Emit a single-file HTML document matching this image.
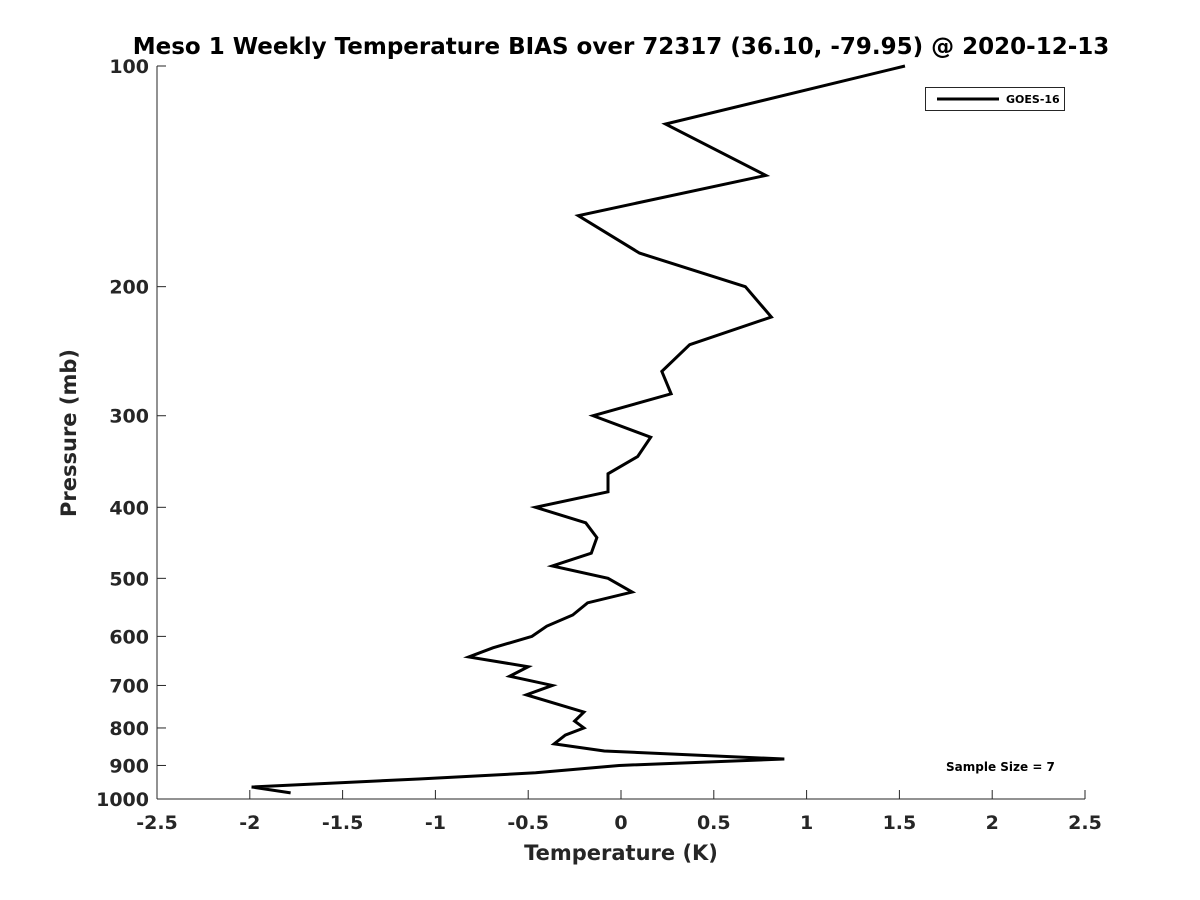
<!DOCTYPE html>
<html><head><meta charset="utf-8"><style>body{margin:0;background:#fff}svg{display:block;font-family:"DejaVu Sans","Liberation Sans",sans-serif}</style></head>
<body>
<svg id="c" width="1200" height="900"></svg>
<script>
const temps=[1.53,0.24,0.78,-0.23,0.10,0.67,0.81,0.37,0.22,0.27,-0.15,0.16,0.09,-0.07,-0.07,-0.46,-0.19,-0.13,-0.16,-0.37,-0.07,0.06,-0.18,-0.26,-0.40,-0.48,-0.69,-0.82,-0.50,-0.60,-0.37,-0.51,-0.20,-0.25,-0.20,-0.30,-0.36,-0.09,0.88,-0.01,-0.46,-1.09,-1.99,-1.78];
const pressures=[100,120,141,160,180,200,220,240,261,280,300,321,341,360,381,400,420,440,462,481,500,522,540,561,581,600,622,640,660,680,700,721,761,783,800,818,841,860,882,900,921,939,963,981];
const xTicks=[-2.5,-2,-1.5,-1,-0.5,0,0.5,1,1.5,2,2.5];
const yTicks=[100,200,300,400,500,600,700,800,900,1000];
const NS="http://www.w3.org/2000/svg",svg=document.getElementById('c');
const X0=157,X1=1085,Y0=66,Y1=799;
const xs=v=>X0+(v+2.5)/5*(X1-X0);
const ys=p=>Y0+Math.log10(p/100)*(Y1-Y0);
function mk(t,a,txt){const e=document.createElementNS(NS,t);for(const k in a)e.setAttribute(k,a[k]);if(txt!=null)e.textContent=txt;svg.appendChild(e);return e;}
let e=mk('rect',{x:0,y:0,width:1200,height:900,fill:'#fff'});

e=mk('line',{x1:X0,y1:Y0,x2:X0,y2:Y1,stroke:'#262626','stroke-width':1});

e=mk('line',{x1:X0,y1:Y1,x2:X1,y2:Y1,stroke:'#262626','stroke-width':1});

xTicks.forEach(v=>{const x=xs(v);
 e=mk('line',{x1:x,y1:Y1,x2:x,y2:Y1-9,stroke:'#262626'});
 
 e=mk('text',{x:x,y:Y1+30,'text-anchor':'middle','font-size':19,'font-weight':'bold',fill:'#262626'},String(v));
 });
yTicks.forEach(p=>{const y=ys(p);
 e=mk('line',{x1:X0,y1:y,x2:X0+9,y2:y,stroke:'#262626'});
 
 e=mk('text',{x:X0-8,y:y+7,'text-anchor':'end','font-size':19,'font-weight':'bold',fill:'#262626'},String(p));
 });
e=mk('polyline',{points:temps.map((t,i)=>xs(t)+','+ys(pressures[i])).join(' '),fill:'none',stroke:'#000','stroke-width':3,'stroke-linejoin':'miter'});

e=mk('text',{x:621,y:54,'text-anchor':'middle','font-size':23,'font-weight':'bold',fill:'#000'},'Meso 1 Weekly Temperature BIAS over 72317 (36.10, -79.95) @ 2020-12-13');

e=mk('text',{x:621,y:860,'text-anchor':'middle','font-size':21,'font-weight':'bold',fill:'#262626'},'Temperature (K)');

e=mk('text',{x:0,y:0,transform:'translate(76,433) rotate(-90)','text-anchor':'middle','font-size':21,'font-weight':'bold',fill:'#262626'},'Pressure (mb)');

e=mk('rect',{x:925.5,y:87.5,width:139,height:23,fill:'#fff',stroke:'#262626'});

e=mk('line',{x1:937,y1:99,x2:999,y2:99,stroke:'#000','stroke-width':3});

e=mk('text',{x:1006,y:103,'font-size':11,'font-weight':'bold',fill:'#000'},'GOES-16');

e=mk('text',{x:946,y:771,'font-size':12,'font-weight':'bold',fill:'#000'},'Sample Size = 7');

</script>
</body></html>
